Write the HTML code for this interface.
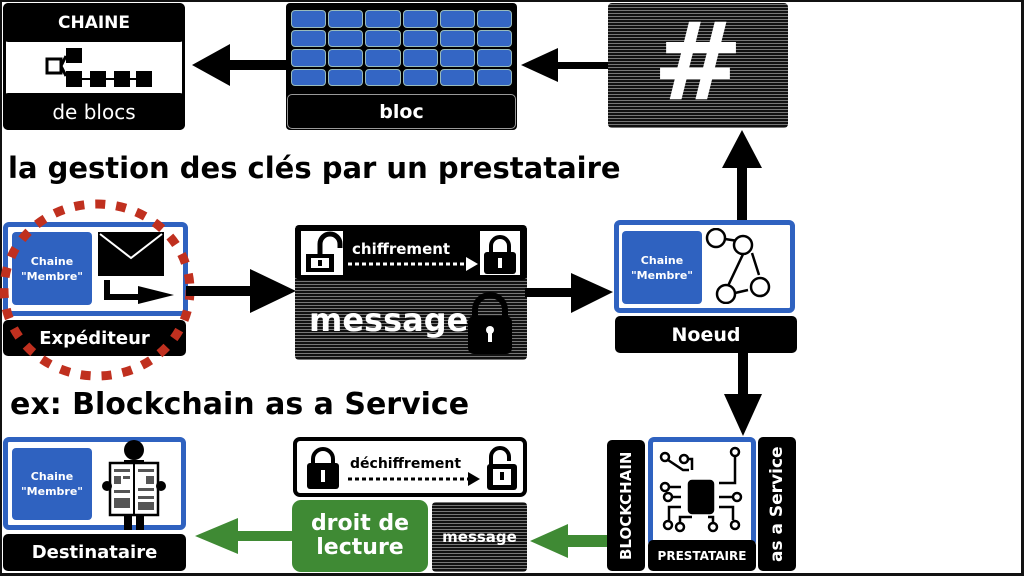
<!DOCTYPE html>
<html><head><meta charset="utf-8"><style>
*{margin:0;padding:0;box-sizing:border-box}
body{width:1024px;height:576px;background:#fff;position:relative;overflow:hidden;font-family:"DejaVu Sans","Liberation Sans",sans-serif;font-weight:bold}
.a{position:absolute}
.blk{position:absolute;background:#000;color:#fff;border-radius:5px;display:flex;align-items:center;justify-content:center;font-weight:bold}
.blue{position:absolute;border:5px solid #2f62c0;border-radius:6px;background:#fff}
.bsq{position:absolute;background:#2f62c0;color:#fff;border-radius:4px;display:flex;align-items:center;justify-content:center;text-align:center;font-size:11px;line-height:15px}
.tex{position:absolute;background:#222;background-image:repeating-linear-gradient(0deg,#777 0 1px,#111 1px 3px),repeating-linear-gradient(90deg,rgba(0,0,0,.5) 0 1px,transparent 1px 3px);border-radius:4px}
.vt{writing-mode:vertical-rl;transform:rotate(180deg)}
</style></head><body>
<div class="a" style="left:0;top:0;width:1024px;height:576px;border:2px solid #111;border-width:2px 3px 3px 2px"></div>

<!-- CHAINE de blocs -->
<div class="a" style="left:3px;top:3px;width:182px;height:127px;border:3px solid #000;border-radius:6px;background:#fff"></div>
<div class="blk" style="left:3px;top:3px;width:182px;height:39px;font-size:17px">CHAINE</div>
<div class="blk" style="left:3px;top:93px;width:182px;height:37px;font-size:20px;font-weight:normal">de blocs</div>
<svg class="a" style="left:44px;top:44px" width="110" height="46"><rect x="3" y="15" width="14" height="14" fill="#fff" stroke="#000" stroke-width="3"/><path d="M17 22 L22 12 M17 22 L22 32" stroke="#000" stroke-width="3"/><rect x="22" y="4" width="16" height="15"/><rect x="22" y="27" width="16" height="16"/><rect x="46" y="27" width="16" height="16"/><rect x="70" y="27" width="16" height="16"/><rect x="92" y="27" width="16" height="16"/><path d="M38 35 H92" stroke="#000" stroke-width="2"/></svg>

<!-- arrows top -->
<svg class="a" style="left:190px;top:40px" width="100" height="50"><path d="M100 20 H40 V4 L2 25 L40 46 V30 H100Z"/></svg>
<svg class="a" style="left:518px;top:45px" width="92" height="40"><path d="M92 17 H40 V3 L3 20 L40 37 V24 H92Z"/></svg>

<!-- bloc -->
<div class="a" style="left:286px;top:3px;width:231px;height:127px;background:#000;border-radius:4px"></div>
<div class="a" style="left:291px;top:10px;width:221px;height:76px;display:grid;grid-template-columns:repeat(6,1fr);grid-template-rows:repeat(4,1fr);gap:2px">
<div style="background:#3466c4;border:1px solid #9bb;border-radius:4px"></div><div style="background:#3466c4;border:1px solid #9bb;border-radius:4px"></div><div style="background:#3466c4;border:1px solid #9bb;border-radius:4px"></div><div style="background:#3466c4;border:1px solid #9bb;border-radius:4px"></div><div style="background:#3466c4;border:1px solid #9bb;border-radius:4px"></div><div style="background:#3466c4;border:1px solid #9bb;border-radius:4px"></div>
<div style="background:#3466c4;border:1px solid #9bb;border-radius:4px"></div><div style="background:#3466c4;border:1px solid #9bb;border-radius:4px"></div><div style="background:#3466c4;border:1px solid #9bb;border-radius:4px"></div><div style="background:#3466c4;border:1px solid #9bb;border-radius:4px"></div><div style="background:#3466c4;border:1px solid #9bb;border-radius:4px"></div><div style="background:#3466c4;border:1px solid #9bb;border-radius:4px"></div>
<div style="background:#3466c4;border:1px solid #9bb;border-radius:4px"></div><div style="background:#3466c4;border:1px solid #9bb;border-radius:4px"></div><div style="background:#3466c4;border:1px solid #9bb;border-radius:4px"></div><div style="background:#3466c4;border:1px solid #9bb;border-radius:4px"></div><div style="background:#3466c4;border:1px solid #9bb;border-radius:4px"></div><div style="background:#3466c4;border:1px solid #9bb;border-radius:4px"></div>
<div style="background:#3466c4;border:1px solid #9bb;border-radius:4px"></div><div style="background:#3466c4;border:1px solid #9bb;border-radius:4px"></div><div style="background:#3466c4;border:1px solid #9bb;border-radius:4px"></div><div style="background:#3466c4;border:1px solid #9bb;border-radius:4px"></div><div style="background:#3466c4;border:1px solid #9bb;border-radius:4px"></div><div style="background:#3466c4;border:1px solid #9bb;border-radius:4px"></div>
</div>
<div class="blk" style="left:287px;top:94px;width:229px;height:35px;font-size:19px;border:1px solid #999">bloc</div>

<!-- hash -->
<div class="tex" style="left:608px;top:3px;width:180px;height:125px"></div>
<div class="a" style="left:648px;top:0px;width:100px;font-size:108px;color:#fff;font-family:'DejaVu Sans';font-weight:bold;text-align:center;line-height:125px">#</div>

<!-- up arrow -->
<svg class="a" style="left:720px;top:128px" width="44" height="94"><path d="M17 94 V40 H2 L22 2 L42 40 H27 V94Z"/></svg>

<div class="a" style="left:8px;top:151px;font-size:29px;color:#000;white-space:nowrap">la gestion des clés par un prestataire</div>

<!-- Expediteur -->
<div class="blue" style="left:3px;top:222px;width:185px;height:94px"></div>
<div class="bsq" style="left:12px;top:232px;width:80px;height:73px">Chaine<br>"Membre"</div>
<svg class="a" style="left:96px;top:230px" width="80" height="80"><rect x="2" y="2" width="66" height="44"/><path d="M4 4 L35 28 L66 4" stroke="#fff" stroke-width="2" fill="none"/><path d="M14 50 V64 H42 V56 L78 65 L42 74 V70 H8 V50Z"/></svg>
<div class="blk" style="left:3px;top:320px;width:183px;height:36px;font-size:18px">Expéditeur</div>
<svg class="a" style="left:0;top:198px" width="200" height="184"><ellipse cx="97" cy="92" rx="93" ry="86" fill="none" stroke="#c0301f" stroke-width="9" stroke-dasharray="10 11"/></svg>

<svg class="a" style="left:186px;top:266px" width="112" height="50"><path d="M0 20 H64 V3 L110 25 L64 47 V30 H0Z"/></svg>

<!-- message box -->
<div class="tex" style="left:295px;top:225px;width:232px;height:135px"></div>
<div class="a" style="left:295px;top:225px;width:232px;height:55px;background:#000;border-radius:5px"></div>
<svg class="a" style="left:298px;top:228px" width="228" height="52"><rect x="3" y="3" width="42" height="44" fill="#fff"/><path d="M22 28 V16 a10 10 0 0 1 20 0 V20" stroke="#000" stroke-width="5" fill="none"/><rect x="8" y="26" width="28" height="18" fill="#000"/><rect x="13" y="30" width="18" height="10" fill="#fff"/><rect x="20" y="32" width="4" height="6"/><path d="M50 36 H170" stroke="#fff" stroke-width="3" stroke-dasharray="4 3"/><path d="M168 29 L180 36 L168 43Z" fill="#fff"/><rect x="182" y="3" width="40" height="44" fill="#fff"/><path d="M193 25 V18 a9 9 0 0 1 18 0 V25" stroke="#000" stroke-width="4" fill="none"/><rect x="186" y="24" width="32" height="22" rx="3"/><rect x="200" y="30" width="4" height="10" fill="#fff"/><text x="54" y="26" fill="#fff" font-size="15" font-weight="bold" font-family="DejaVu Sans">chiffrement</text></svg>
<div class="a" style="left:309px;top:298px;font-size:32px;color:#fff;line-height:44px;font-family:'DejaVu Sans'">message</div>
<svg class="a" style="left:465px;top:290px" width="50" height="68"><path d="M10 28 V20 a15 15 0 0 1 30 0 V28" stroke="#000" stroke-width="6" fill="none"/><rect x="3" y="26" width="44" height="38" rx="6"/><circle cx="25" cy="40" r="4" fill="#fff"/><rect x="23" y="40" width="4" height="12" fill="#fff"/></svg>

<svg class="a" style="left:525px;top:270px" width="90" height="46"><path d="M0 18 H46 V3 L88 22 L46 43 V27 H0Z"/></svg>

<!-- Noeud -->
<div class="blue" style="left:614px;top:220px;width:181px;height:93px"></div>
<div class="bsq" style="left:622px;top:231px;width:80px;height:73px">Chaine<br>"Membre"</div>
<svg class="a" style="left:703px;top:228px" width="80" height="76"><g fill="#fff" stroke="#000" stroke-width="2.5"><path d="M22 11 L35 13 M42 22 L24 60 M49 25 L56 47 M32 65 L45 62" /><circle cx="13" cy="10" r="9"/><circle cx="40" cy="17" r="9"/><circle cx="23" cy="66" r="9"/><circle cx="57" cy="59" r="9"/></g></svg>
<div class="blk" style="left:615px;top:316px;width:182px;height:37px;font-size:19px">Noeud</div>

<svg class="a" style="left:722px;top:352px" width="42" height="86"><path d="M16 0 V42 H2 L21 84 L40 42 H26 V0Z"/></svg>

<div class="a" style="left:10px;top:387px;font-size:30px;color:#000;white-space:nowrap">ex: Blockchain as a Service</div>

<!-- Destinataire -->
<div class="blue" style="left:3px;top:437px;width:183px;height:93px"></div>
<div class="bsq" style="left:12px;top:448px;width:80px;height:72px">Chaine<br>"Membre"</div>
<svg class="a" style="left:98px;top:438px" width="70" height="92"><circle cx="36" cy="12" r="10"/><rect x="26" y="22" width="20" height="20"/><rect x="12" y="25" width="48" height="52" fill="#fff" stroke="#000" stroke-width="2.5"/><path d="M36 25 V77" stroke="#000" stroke-width="2"/><g fill="#555"><rect x="16" y="31" width="16" height="3"/><rect x="16" y="38" width="7" height="8"/><rect x="25" y="38" width="7" height="3"/><rect x="40" y="31" width="16" height="3"/><rect x="48" y="38" width="8" height="8"/><rect x="40" y="50" width="16" height="3"/><rect x="16" y="52" width="16" height="3"/><rect x="16" y="60" width="16" height="10"/><rect x="40" y="58" width="16" height="3"/><rect x="40" y="64" width="16" height="8"/></g><circle cx="9" cy="48" r="5"/><circle cx="63" cy="48" r="5"/><rect x="26" y="77" width="8" height="15"/><rect x="38" y="77" width="8" height="15"/></svg>
<div class="blk" style="left:3px;top:534px;width:183px;height:37px;font-size:18px">Destinataire</div>

<svg class="a" style="left:193px;top:516px" width="100" height="40"><path d="M100 15 H45 V2 L2 20 L45 38 V25 H100Z" fill="#3f8a34"/></svg>

<!-- dechiffrement -->
<div class="a" style="left:293px;top:437px;width:234px;height:60px;border:4px solid #000;border-radius:7px;background:#fff"></div>
<svg class="a" style="left:300px;top:443px" width="222" height="50"><path d="M13 22 V16 a10 10 0 0 1 20 0 V22" stroke="#000" stroke-width="4" fill="none"/><rect x="7" y="20" width="32" height="26" rx="3"/><rect x="21" y="27" width="4" height="12" fill="#fff"/><path d="M48 36 H170" stroke="#000" stroke-width="3" stroke-dasharray="4 3"/><path d="M168 29 L180 36 L168 43Z"/><path d="M191 22 V14 a9 9 0 0 1 18 0 V18" stroke="#000" stroke-width="4" fill="none"/><rect x="187" y="21" width="30" height="26" rx="3"/><rect x="193" y="26" width="18" height="16" fill="#fff"/><rect x="200" y="29" width="4" height="8"/><text x="50" y="25" font-size="14" font-weight="bold" font-family="DejaVu Sans">déchiffrement</text></svg>

<div class="a" style="left:292px;top:500px;width:136px;height:72px;background:#3f8a34;border-radius:9px;color:#fff;font-size:22px;line-height:24px;display:flex;align-items:center;justify-content:center;text-align:center">droit de<br>lecture</div>
<div class="tex" style="left:432px;top:502px;width:95px;height:70px"></div>
<div class="a" style="left:432px;top:528px;width:95px;text-align:center;color:#fff;font-size:15px">message</div>

<svg class="a" style="left:528px;top:522px" width="82" height="38"><path d="M82 13 H40 V2 L2 19 L40 36 V25 H82Z" fill="#3f8a34"/></svg>

<!-- BaaS -->
<div class="blk vt" style="left:607px;top:440px;width:38px;height:131px;font-size:15px">BLOCKCHAIN</div>
<div class="blue" style="left:648px;top:437px;width:108px;height:110px"></div>
<svg class="a" style="left:655px;top:445px" width="95" height="95" fill="none" stroke="#000" stroke-width="2.5"><rect x="34" y="36" width="24" height="32" rx="3" fill="#000"/><circle cx="10" cy="12" r="4"/><path d="M13 15 L28 25 H34"/><circle cx="29" cy="14" r="4"/><path d="M33 14 H37 V25"/><circle cx="80" cy="7" r="4"/><path d="M80 11 V38 H64"/><circle cx="10" cy="42" r="4"/><path d="M14 42 H26"/><circle cx="13" cy="52" r="4"/><path d="M17 52 H26"/><circle cx="82" cy="52" r="4"/><path d="M78 52 H64"/><path d="M26 62 H14 V75"/><circle cx="13" cy="80" r="4"/><path d="M64 62 H78 V75"/><circle cx="80" cy="80" r="4"/><circle cx="25" cy="82" r="4"/><path d="M25 78 V72 H37"/><circle cx="58" cy="82" r="4"/><path d="M58 78 V72 H53"/></svg>
<div class="blk" style="left:648px;top:540px;width:108px;height:31px;font-size:12px">PRESTATAIRE</div>
<div class="blk vt" style="left:758px;top:437px;width:38px;height:134px;font-size:17px">as a Service</div>
</body></html>
